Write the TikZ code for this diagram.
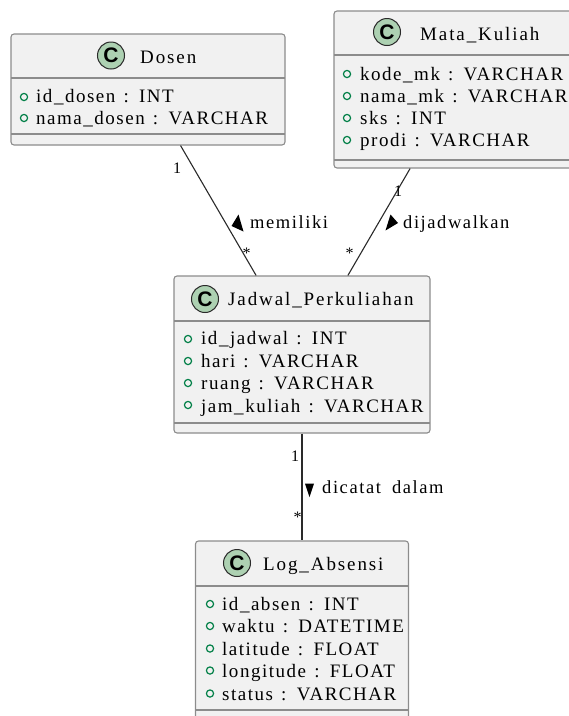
\documentclass[tikz,border=0pt]{standalone}
\usepackage{fontspec}
\setmainfont{Liberation Serif}
\newfontfamily\hdfont[LetterSpace=10, WordSpace=1.8]{Liberation Serif}
\newfontfamily\atfont[LetterSpace=8, WordSpace=1.3]{Liberation Serif}
\newfontfamily\lbfont[LetterSpace=8.5, WordSpace=1.8]{Liberation Serif}
\newfontfamily\cfont{Liberation Sans}
\definecolor{boxfill}{HTML}{F1F1F1}
\definecolor{boxline}{HTML}{8C8C8C}
\definecolor{edgeline}{HTML}{2A2A2A}
\definecolor{cfill}{HTML}{ADD1B2}
\definecolor{attrgreen}{HTML}{038048}
\tikzset{
  classbox/.style={draw=boxline, fill=boxfill, line width=1.1pt, rounded corners=3pt, inner sep=0pt},
  sepline/.style={draw=boxline, line width=1.1pt},
  cmark/.style={circle, draw=edgeline, fill=cfill, line width=1pt, minimum size=27pt, inner sep=0pt, font=\cfont\bfseries\fontsize{21}{21}\selectfont},
  title/.style={anchor=base west, inner sep=0pt, font=\hdfont\fontsize{19}{22}\selectfont},
  attr/.style={anchor=base west, inner sep=0pt, font=\atfont\fontsize{19}{22}\selectfont},
  adot/.style={draw=attrgreen, line width=1.2pt},
  edge/.style={draw=edgeline, line width=1.1pt},
  lbl/.style={anchor=base west, inner sep=0pt, font=\lbfont\fontsize{18.5}{22}\selectfont},
  mult/.style={inner sep=0pt, font=\fontsize{16}{16}\selectfont},
  tri/.style={fill=black},
}
\begin{document}
\begin{tikzpicture}[x=1pt, y=-1pt]
\useasboundingbox (0,0) rectangle (569,716);
\begin{scope}
\clip (0,0) rectangle (569,716);
% ---- Dosen ----
\node[classbox, minimum width=274pt, minimum height=111pt] (dosen) at (148,89.5) {};
\draw[sepline] (11,78) -- (285,78);
\draw[sepline] (11,134) -- (285,134);
\node[cmark] (cdosen) at (111,55.5) {C};
\node[title] (tdosen) at (140,63) {Dosen};
\draw[adot] (24,97) circle (3.6);
\node[attr] (a1) at (36,102.5) {id\_dosen : INT};
\draw[adot] (24,118) circle (3.6);
\node[attr] (a2) at (36,124) {nama\_dosen : VARCHAR};
% ---- Mata_Kuliah ----
\node[classbox, minimum width=244pt, minimum height=157pt] (mk) at (456,89.5) {};
\draw[sepline] (334,55) -- (578,55);
\draw[sepline] (334,160) -- (578,160);
\node[cmark] (cmk) at (387,32) {C};
\node[title] (tmk) at (420,40.5) {Mata\_Kuliah};
\draw[adot] (347,74) circle (3.6);
\node[attr] (b1) at (360,80) {kode\_mk : VARCHAR};
\draw[adot] (347,96) circle (3.6);
\node[attr] (b2) at (360,102) {nama\_mk : VARCHAR};
\draw[adot] (347,118) circle (3.6);
\node[attr] (b3) at (360,124) {sks : INT};
\draw[adot] (347,140) circle (3.6);
\node[attr] (b4) at (360,146.5) {prodi : VARCHAR};
% ---- Jadwal_Perkuliahan ----
\node[classbox, minimum width=256pt, minimum height=157pt] (jadwal) at (302,354.5) {};
\draw[sepline] (174,321) -- (430,321);
\draw[sepline] (174,423) -- (430,423);
\node[cmark] (cjad) at (205,299) {C};
\node[title] (tjad) at (228,305.5) {Jadwal\_Perkuliahan};
\draw[adot] (188,339) circle (3.6);
\node[attr] (c1) at (201,344.5) {id\_jadwal : INT};
\draw[adot] (188,361) circle (3.6);
\node[attr] (c2) at (201,367) {hari : VARCHAR};
\draw[adot] (188,383) circle (3.6);
\node[attr] (c3) at (201,389.5) {ruang : VARCHAR};
\draw[adot] (188,405) circle (3.6);
\node[attr] (c4) at (201,412) {jam\_kuliah : VARCHAR};
% ---- Log_Absensi ----
\node[classbox, minimum width=213pt, minimum height=180pt] (log) at (302,631) {};
\draw[sepline] (195.5,586) -- (408.5,586);
\draw[sepline] (195.5,710) -- (408.5,710);
\node[cmark] (clog) at (237,563) {C};
\node[title] (tlog) at (263,570) {Log\_Absensi};
\draw[adot] (210,604) circle (3.6);
\node[attr] (d1) at (222,610) {id\_absen : INT};
\draw[adot] (210,626) circle (3.6);
\node[attr] (d2) at (222,632.5) {waktu : DATETIME};
\draw[adot] (210,648.5) circle (3.6);
\node[attr] (d3) at (222,655) {latitude : FLOAT};
\draw[adot] (210,670.5) circle (3.6);
\node[attr] (d4) at (222,677.5) {longitude : FLOAT};
\draw[adot] (210,693.5) circle (3.6);
\node[attr] (d5) at (222,700) {status : VARCHAR};
\end{scope}
% ---- connectors ----
\draw[edge] (dosen) -- (jadwal);
\draw[edge] (mk) -- (jadwal);
\draw[edge] (jadwal) -- (log);
% multiplicities
\node[mult] (m1) at (177,168) {1};
\node[mult] (m2) at (246.5,253) {*};
\node[mult] (m3) at (398,191) {1};
\node[mult] (m4) at (349.5,253) {*};
\node[mult] (m5) at (295,456.5) {1};
\node[mult] (m6) at (297.5,517.5) {*};
% labels with direction triangles
\fill[tri] (231.5,226) -- (238.5,214.5) -- (243.5,231.5) -- cycle;
\node[lbl] (l1) at (250,228.5) {memiliki};
\fill[tri] (390.5,214.5) -- (385.5,230.5) -- (398,223) -- cycle;
\node[lbl] (l2) at (403,228.5) {dijadwalkan};
\fill[tri] (305,483.5) -- (314,483.5) -- (309.5,497) -- cycle;
\node[lbl] (l3) at (322,493.5) {dicatat dalam};
\end{tikzpicture}
\end{document}
